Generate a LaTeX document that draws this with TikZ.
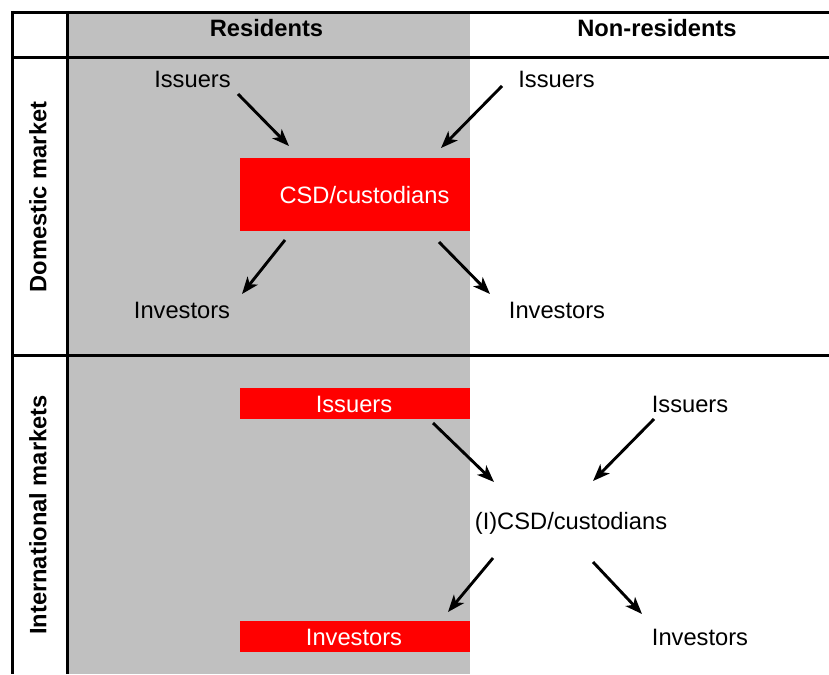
\documentclass[tikz,border=0pt]{standalone}
\usepackage{fontspec}
\setmainfont{Liberation Sans}
\usetikzlibrary{arrows.meta}
\definecolor{bggray}{HTML}{C0C0C0}
\definecolor{boxred}{HTML}{FF0000}
\tikzset{
  frameline/.style={line width=3pt},
  lbl/.style={font=\fontsize{23.7}{28}\selectfont, inner sep=0pt, anchor=base},
  hdr/.style={lbl, font=\fontsize{23.7}{28}\selectfont\bfseries},
  sidelbl/.style={font=\fontsize{23.7}{28}\selectfont\bfseries, inner sep=0pt, rotate=90, anchor=center},
  redbox/.style={fill=boxred, draw=none, inner sep=0pt},
  whitelbl/.style={lbl, text=white},
  flow/.style={line width=2.9pt, -{Stealth[length=17pt,width=13pt,inset=4.5pt]}}
}
\begin{document}
\begin{tikzpicture}[x=1pt,y=-1pt]
\useasboundingbox (0,0) rectangle (829,674);
% gray residents column
\fill[bggray] (67,12.5) rectangle (470,674);
% red boxes
\node[redbox, minimum width=230pt, minimum height=73pt] (csdbox) at (355,194.5) {};
\node[redbox, minimum width=230pt, minimum height=31pt] (issbox) at (355,403.5) {};
\node[redbox, minimum width=230pt, minimum height=31pt] (invbox) at (355,636.5) {};
% frame
\coordinate (tl) at (11,12.5);
\coordinate (tr) at (829,12.5);
\coordinate (hl) at (11,57.5);
\coordinate (hr) at (829,57.5);
\coordinate (sl) at (11,355);
\coordinate (sr) at (829,355);
\coordinate (v1t) at (12,11);
\coordinate (v1b) at (12,674);
\coordinate (v2t) at (67,11);
\coordinate (v2b) at (67,674);
\draw[frameline] (tl) -- (tr);
\draw[frameline] (hl) -- (hr);
\draw[frameline] (sl) -- (sr);
\draw[frameline] (v1t) -- (v1b);
\draw[frameline] (v2t) -- (v2b);
% headers
\node[hdr] (hres) at (266.5,37) {Residents};
\node[hdr] (hnon) at (657,37) {Non-residents};
\node[sidelbl] (sdom) at (38,197) {Domestic market};
\node[sidelbl] (sint) at (38,515) {International markets};
% domestic market
\node[lbl] (iss1) at (192.5,88) {Issuers};
\node[lbl] (iss2) at (556.5,88) {Issuers};
\node[whitelbl] (csd) at (364.5,203) {CSD/custodians};
\node[lbl] (inv1) at (182,318) {Investors};
\node[lbl] (inv2) at (557,318) {Investors};
% international markets
\node[whitelbl] (iss3) at (354,412) {Issuers};
\node[lbl] (iss4) at (690,412) {Issuers};
\node[lbl] (icsd) at (571,529) {(I)CSD/custodians};
\node[whitelbl] (inv3) at (354,645) {Investors};
\node[lbl] (inv4) at (700,645) {Investors};
% arrow end points
\coordinate (a1s) at (238,94);  \coordinate (a1e) at (289,146);
\coordinate (a2s) at (502,86);  \coordinate (a2e) at (441,148);
\coordinate (a3s) at (285,240); \coordinate (a3e) at (242,294);
\coordinate (a4s) at (439,242); \coordinate (a4e) at (490,294);
\coordinate (a5s) at (433,423); \coordinate (a5e) at (494,482);
\coordinate (a6s) at (654,419); \coordinate (a6e) at (593,481);
\coordinate (a7s) at (493,558); \coordinate (a7e) at (448,612);
\coordinate (a8s) at (593,562); \coordinate (a8e) at (642,614);
\draw[flow] (a1s) -- (a1e);
\draw[flow] (a2s) -- (a2e);
\draw[flow] (a3s) -- (a3e);
\draw[flow] (a4s) -- (a4e);
\draw[flow] (a5s) -- (a5e);
\draw[flow] (a6s) -- (a6e);
\draw[flow] (a7s) -- (a7e);
\draw[flow] (a8s) -- (a8e);
\end{tikzpicture}
\end{document}
